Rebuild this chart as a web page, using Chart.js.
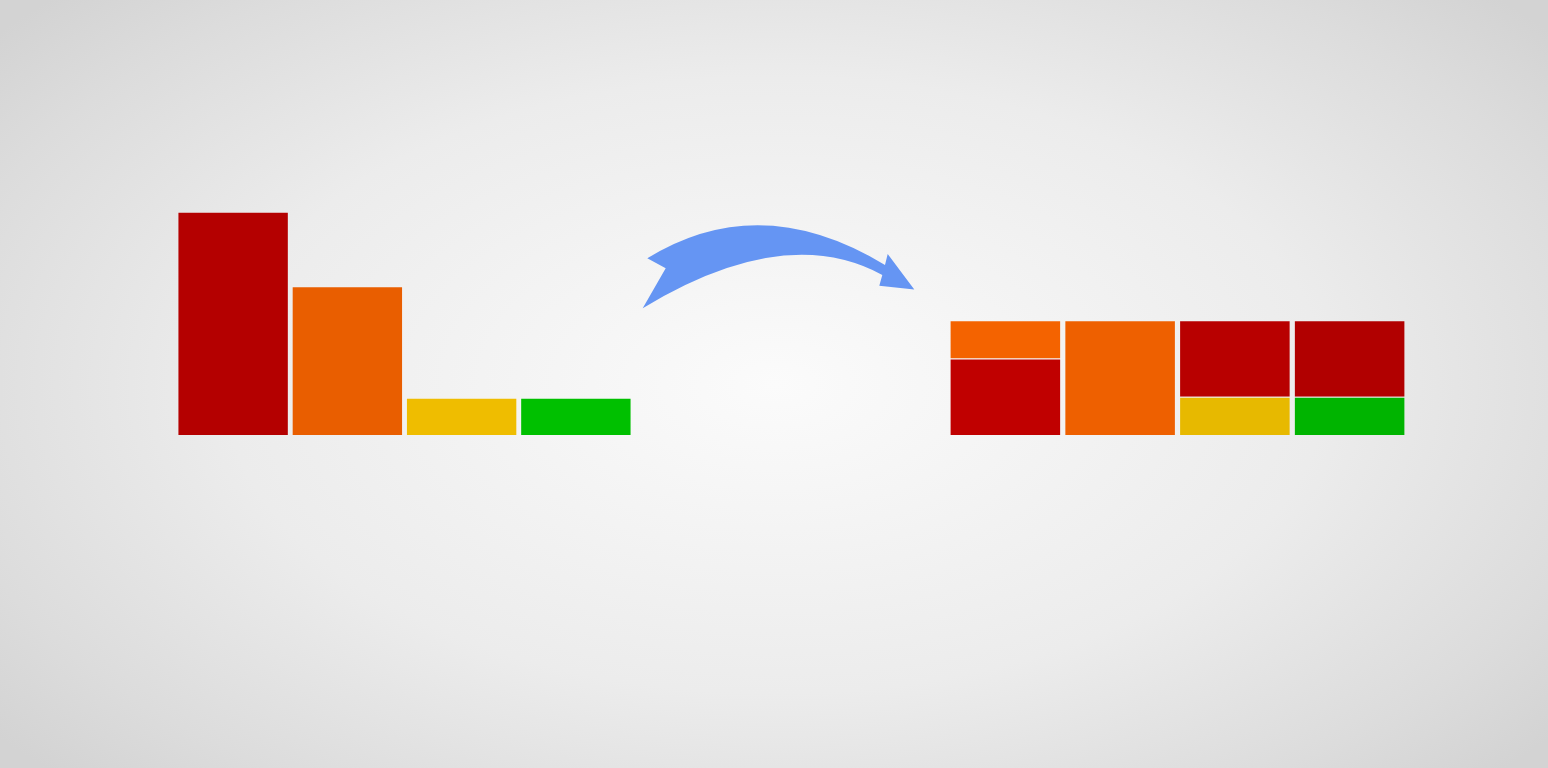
<!DOCTYPE html>
<html>
<head>
<meta charset="utf-8">
<script src="https://cdn.jsdelivr.net/npm/chart.js@4"></script>
<style>
  html, body { margin:0; padding:0; width:1548px; height:768px; overflow:hidden; }
  body { background: radial-gradient(ellipse 1000px 560px at 775px 385px, #fbfbfb 0%, #ececec 55%, #dcdcdc 85%, #d3d3d3 100%); position:relative; font-family:"Noto Sans", sans-serif; }
  .box { position:absolute; }
  #leftBox { left:175.5px; top:100px; width:457px; height:335px; }
  #rightBox { left:948px; top:100px; width:459px; height:335px; }
  #arrow { position:absolute; left:0; top:0; width:1548px; height:768px; }
</style>
</head>
<body>
<div class="box" id="leftBox"><canvas id="left"></canvas></div>
<div class="box" id="rightBox"><canvas id="right"></canvas></div>
<canvas id="arrow" width="1548" height="768"></canvas>
<script>
// ---- data ----
const categories = ['red', 'orange', 'yellow', 'green'];
const originalValues = [2, 1.333, 0.333, 0.333];
const originalColors = ['#b40000', '#e95e00', '#efbd00', '#00c000'];

const bucketBottomValues = [0.667, 1.0, 0.333, 0.333];
const bucketBottomColors = ['#c00000', '#ee6000', '#e7b900', '#00b400'];
const bucketTopValues = [0.333, 0, 0.667, 0.667];
const bucketTopColors = ['#f46300', '#ee6000', '#b80000', '#b10000'];

const commonOptions = (max) => ({
  responsive: true,
  maintainAspectRatio: false,
  animation: false,
  layout: { padding: 0 },
  plugins: { legend: { display: false }, tooltip: { enabled: false } },
  scales: {
    x: { display: false, stacked: true, offset: true, grid: { display: false } },
    y: { display: false, stacked: true, min: 0, max: max, grid: { display: false } }
  }
});

new Chart(document.getElementById('left'), {
  type: 'bar',
  data: {
    labels: categories,
    datasets: [{
      data: originalValues,
      backgroundColor: originalColors,
      borderColor: 'rgba(255,255,255,0.15)',
      borderWidth: 1,
      barPercentage: 0.975,
      categoryPercentage: 1.0
    }]
  },
  options: commonOptions(3.0)
});

new Chart(document.getElementById('right'), {
  type: 'bar',
  data: {
    labels: categories,
    datasets: [{
      data: bucketBottomValues,
      backgroundColor: bucketBottomColors,
      borderColor: 'rgba(255,255,255,0.12)',
      borderWidth: 1,
      barPercentage: 0.972,
      categoryPercentage: 1.0
    }, {
      data: bucketTopValues,
      backgroundColor: bucketTopColors,
      borderColor: 'rgba(255,255,255,0.12)',
      borderWidth: 1,
      barPercentage: 0.972,
      categoryPercentage: 1.0
    }]
  },
  options: commonOptions(2.92)
});

// decorative curved arrow between the two charts
(function () {
  const c = document.getElementById('arrow').getContext('2d');
  c.fillStyle = '#6595f3';
  c.beginPath();
  c.moveTo(647.3, 258.3);
  c.quadraticCurveTo(760, 189, 885, 265);
  c.lineTo(887.7, 254);
  c.lineTo(914.3, 289.5);
  c.lineTo(879.3, 285.7);
  c.lineTo(882.3, 275);
  c.quadraticCurveTo(785, 222, 642.7, 308.3);
  c.lineTo(665.7, 268.3);
  c.closePath();
  c.fill();
})();
</script>
</body>
</html>
